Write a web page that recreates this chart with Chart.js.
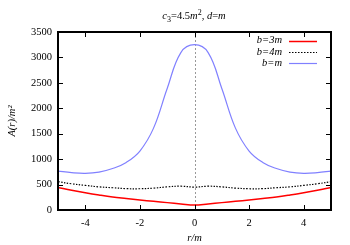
<!DOCTYPE html>
<html>
<head>
<meta charset="utf-8">
<script src="https://cdn.jsdelivr.net/npm/chart.js@4"></script>
<style>
  html, body { margin: 0; padding: 0; background: #fff; }
</style>
</head>
<body>
<canvas id="chart" width="350" height="245"></canvas>
<script>
// data
const rValues = [-5, -4.5, -4, -3.5, -3, -2.5, -2, -1.5, -1, -0.5, 0, 0.5, 1, 1.5, 2, 2.5, 3, 3.5, 4, 4.5, 5];
const b3m = [445, 390, 340, 295, 255, 225, 196, 170, 145, 120, 98, 120, 145, 170, 196, 225, 255, 295, 340, 390, 445];
const b4m = [557, 515, 484, 455, 438, 420, 418, 430, 455, 468, 450, 468, 455, 430, 418, 420, 438, 455, 484, 515, 557];
const bm = [765, 735, 722, 745, 815, 935, 1160, 1610, 2390, 3095, 3250, 3095, 2390, 1610, 1160, 935, 815, 745, 722, 735, 765];
const seriesLabels = ['b=3m', 'b=4m', 'b=m'];
const xTicks = [-4, -2, 0, 2, 4];
const yTicks = [0, 500, 1000, 1500, 2000, 2500, 3000, 3500];

const serif = "'Liberation Serif', 'DejaVu Serif', serif";

function pts(ys) {
    return rValues.map((x, i) => ({ x: x, y: ys[i] }));
}

// frame, inward ticks, zero line, title and legend, gnuplot style
const gnuplotLook = {
    id: 'gnuplotLook',
    beforeDatasetsDraw(chart) {
        const { ctx, chartArea: a, scales: { x } } = chart;
        const x0 = x.getPixelForValue(0);
        ctx.save();
        ctx.strokeStyle = '#999';
        ctx.lineWidth = 1;
        ctx.setLineDash([2, 2]);
        ctx.beginPath();
        ctx.moveTo(Math.round(x0) + 0.5, a.top);
        ctx.lineTo(Math.round(x0) + 0.5, a.bottom);
        ctx.stroke();
        ctx.restore();
    },
    afterDraw(chart) {
        const { ctx, chartArea: a, scales: { x, y } } = chart;
        ctx.save();
        ctx.strokeStyle = '#000';
        ctx.lineWidth = 1;
        ctx.beginPath();
        xTicks.forEach(v => {
            const px = Math.round(x.getPixelForValue(v)) + 0.5;
            ctx.moveTo(px, a.bottom); ctx.lineTo(px, a.bottom - 5);
            ctx.moveTo(px, a.top); ctx.lineTo(px, a.top + 5);
        });
        yTicks.forEach(v => {
            const py = Math.round(y.getPixelForValue(v)) + 0.5;
            ctx.moveTo(a.left, py); ctx.lineTo(a.left + 5, py);
            ctx.moveTo(a.right, py); ctx.lineTo(a.right - 5, py);
        });
        ctx.stroke();
        ctx.lineWidth = 2;
        ctx.strokeRect(a.left, a.top, a.right - a.left, a.bottom - a.top);

        // title with italics, sub and superscripts
        const runs = [
            { t: 'c', it: true }, { t: '3', dy: 3, small: true }, { t: '=4.5' },
            { t: 'm', it: true }, { t: '2', dy: -4, small: true }, { t: ', ' },
            { t: 'd', it: true }, { t: '=' }, { t: 'm', it: true }
        ];
        const fontOf = r => (r.it ? 'italic ' : '') + (r.small ? '8px ' : '10.5px ') + serif;
        let w = 0;
        runs.forEach(r => { ctx.font = fontOf(r); w += ctx.measureText(r.t).width; });
        let tx = 194 - w / 2;
        ctx.fillStyle = '#000';
        ctx.textBaseline = 'alphabetic';
        ctx.textAlign = 'left';
        runs.forEach(r => {
            ctx.font = fontOf(r);
            ctx.fillText(r.t, tx, 18.5 + (r.dy || 0));
            tx += ctx.measureText(r.t).width;
        });

        // legend
        const rows = [40.7, 52, 63];
        chart.data.datasets.forEach((ds, i) => {
            ctx.font = 'italic 10.5px ' + serif;
            ctx.textAlign = 'right';
            ctx.textBaseline = 'middle';
            ctx.fillStyle = '#000';
            ctx.fillText(ds.label, 282, rows[i]);
            ctx.strokeStyle = ds.borderColor;
            ctx.lineWidth = ds.borderWidth;
            ctx.setLineDash(ds.borderDash || []);
            ctx.beginPath();
            ctx.moveTo(289, Math.round(rows[i]) + 0.5);
            ctx.lineTo(317, Math.round(rows[i]) + 0.5);
            ctx.stroke();
        });
        ctx.restore();
    }
};

const ctx = document.getElementById('chart').getContext('2d');
const chart = new Chart(ctx, {
    type: 'line',
    data: {
        datasets: [{
            label: seriesLabels[0],
            data: pts(b3m),
            borderColor: '#ff0000',
            borderWidth: 1.5
        }, {
            label: seriesLabels[1],
            data: pts(b4m),
            borderColor: '#000000',
            borderWidth: 1.2,
            borderDash: [1.5, 1.5]
        }, {
            label: seriesLabels[2],
            data: pts(bm),
            borderColor: '#8080ff',
            borderWidth: 1.2
        }]
    },
    options: {
        responsive: false,
        animation: false,
        elements: { point: { radius: 0 }, line: { tension: 0.4 } },
        layout: { padding: { top: 32, right: 19, left: 0, bottom: 0 } },
        plugins: {
            legend: { display: false },
            tooltip: { enabled: false },
            title: { display: false }
        },
        scales: {
            x: {
                type: 'linear',
                min: -5,
                max: 5,
                afterBuildTicks: s => { s.ticks = xTicks.map(v => ({ value: v })); },
                afterFit: s => { s.height = 35; },
                grid: { display: false, drawTicks: false },
                border: { display: false },
                ticks: { padding: 7, color: '#000', font: { family: serif, size: 10.5 }, callback: v => String(v) },
                title: {
                    display: true,
                    text: 'r/m',
                    color: '#000',
                    padding: { top: 0, bottom: 0 },
                    font: { family: serif, size: 10.5, style: 'italic' }
                }
            },
            y: {
                min: 0,
                max: 3500,
                afterBuildTicks: s => { s.ticks = yTicks.map(v => ({ value: v })); },
                afterFit: s => { s.width = 58; },
                grid: { display: false, drawTicks: false },
                border: { display: false },
                ticks: { padding: 6, color: '#000', font: { family: serif, size: 10.5 }, callback: v => String(v) },
                title: {
                    display: true,
                    text: 'A(r)/m²',
                    color: '#000',
                    padding: { top: 6, bottom: 0 },
                    font: { family: serif, size: 10.5, style: 'italic' }
                }
            }
        }
    },
    plugins: [gnuplotLook]
});
</script>
</body>
</html>
